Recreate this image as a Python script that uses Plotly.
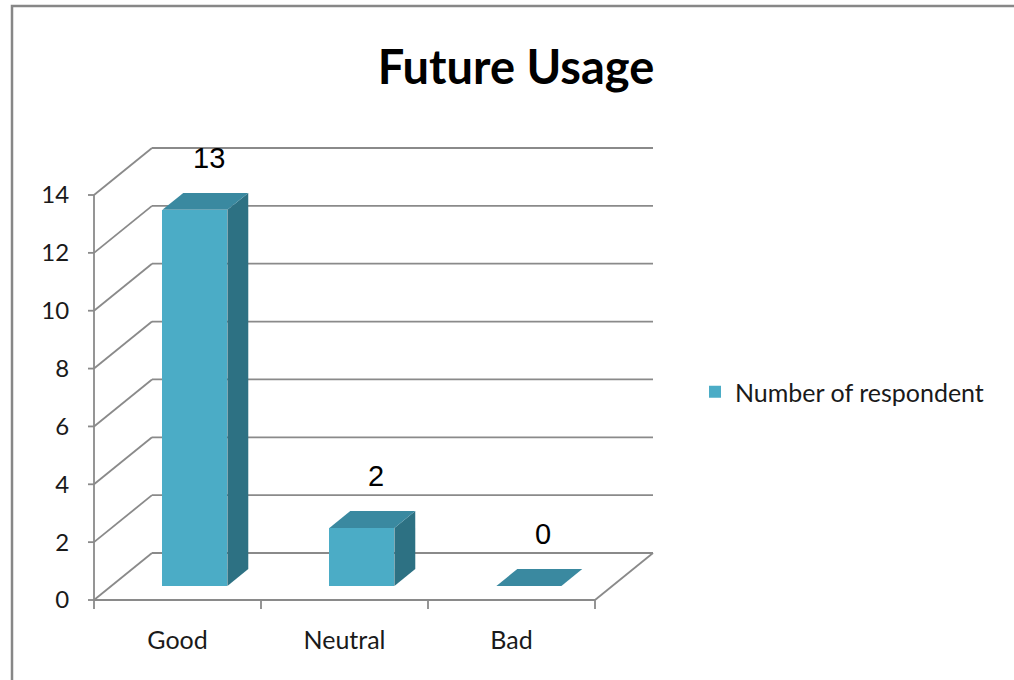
import plotly.graph_objects as go

# ---------------- data ----------------
categories = ["Good", "Neutral", "Bad"]
respondents = [13, 2, 0]
y_ticks = [0, 2, 4, 6, 8, 10, 12, 14]
series_name = "Number of respondent"
title_text = "Future Usage"

# ---------------- style / projection constants ----------------
W, H = 1014, 680
PX_X0 = 94.0                 # pixel of front-left axis
PX_CAT = 167.0               # pixels per category
PX_Y0 = 600.0                # pixel of value 0 on the front plane
PX_UNIT = (600 - 195) / 14   # pixels per value unit
PLOT_L, PLOT_R, PLOT_T, PLOT_B = 80, 690, 110, 614

x_min = -0.5 - (PX_X0 - PLOT_L) / PX_CAT
x_max = -0.5 + (PLOT_R - PX_X0) / PX_CAT
y_min = -(PLOT_B - PX_Y0) / PX_UNIT
y_max = (PX_Y0 - PLOT_T) / PX_UNIT

DX = 58 / PX_CAT             # depth offset (x units)
DY = 47 / PX_UNIT            # depth offset (y units)
D0, D1 = 0.30, 0.66          # bar depth span (fraction of wall depth)
BAR_W = 65 / PX_CAT
TICK_Y = 6 / PX_CAT
TICK_X = 9 / PX_UNIT

GRID = "#8a8a8a"
FRONT = "#4BACC6"
TOP = "#3A89A0"
SIDE = "#2D7183"
FONT_UI = "Lato"

n = len(categories)
left_edge = -0.5
right_edge = n - 0.5

fig = go.Figure()

# ---------------- walls / gridlines (shapes below traces) ----------------
shapes = []
def seg(x0, y0, x1, y1, w=1.8):
    shapes.append(dict(type="line", xref="x", yref="y", x0=x0, y0=y0, x1=x1, y1=y1,
                       line=dict(color=GRID, width=w), layer="below"))

for t in y_ticks:
    seg(left_edge + DX, t + DY, right_edge + DX, t + DY)      # back wall line
    seg(left_edge, t, left_edge + DX, t + DY)                  # side wall diagonal
    seg(left_edge - TICK_Y, t, left_edge, t)                   # y tick mark
# front y axis
seg(left_edge, 0, left_edge, max(y_ticks))
# floor front edge (x axis) and right edge
seg(left_edge, 0, right_edge, 0)
seg(right_edge, 0, right_edge + DX, DY)
# category boundary ticks
for i in range(n + 1):
    b = left_edge + i
    seg(b, 0, b, -TICK_X)

# outer chart border
def px_to_paper_x(px):
    return (px - PLOT_L) / (PLOT_R - PLOT_L)
def px_to_paper_y(py):
    return (PLOT_B - py) / (PLOT_B - PLOT_T)
shapes.append(dict(type="rect", xref="paper", yref="paper",
                   x0=px_to_paper_x(12), x1=px_to_paper_x(1040),
                   y0=px_to_paper_y(720), y1=px_to_paper_y(6),
                   line=dict(color="#878787", width=2.5), fillcolor="rgba(0,0,0,0)",
                   layer="below"))

# ---------------- bars: front faces ----------------
fig.add_trace(go.Bar(
    x=[i + D0 * DX for i in range(n)],
    y=respondents,
    base=[D0 * DY] * n,
    width=BAR_W,
    marker=dict(color=FRONT, line=dict(width=0)),
    name=series_name,
    showlegend=True,
    hoverinfo="skip",
))

# ---------------- bars: top and side faces ----------------
for i, v in enumerate(respondents):
    xl = i - BAR_W / 2
    xr = i + BAR_W / 2
    # side face
    if v > 0:
        fig.add_trace(go.Scatter(
            x=[xr + D0 * DX, xr + D0 * DX, xr + D1 * DX, xr + D1 * DX, xr + D0 * DX],
            y=[D0 * DY, v + D0 * DY, v + D1 * DY, D1 * DY, D0 * DY],
            mode="lines", fill="toself", fillcolor=SIDE,
            line=dict(width=0, color=SIDE), showlegend=False, hoverinfo="skip"))
    # top face
    fig.add_trace(go.Scatter(
        x=[xl + D0 * DX, xr + D0 * DX, xr + D1 * DX, xl + D1 * DX, xl + D0 * DX],
        y=[v + D0 * DY, v + D0 * DY, v + D1 * DY, v + D1 * DY, v + D0 * DY],
        mode="lines", fill="toself", fillcolor=TOP,
        line=dict(width=0, color=TOP), showlegend=False, hoverinfo="skip"))

# ---------------- value labels ----------------
annotations = []
for i, v in enumerate(respondents):
    annotations.append(dict(
        x=i + 0.55 * DX, y=v + DY + 0.65, xref="x", yref="y",
        text=str(v), showarrow=False,
        font=dict(family="Liberation Sans, Arial", size=29, color="#000000"),
        xanchor="center", yanchor="middle"))

fig.update_layout(
    width=W, height=H,
    margin=dict(l=PLOT_L, r=W - PLOT_R, t=PLOT_T, b=H - PLOT_B, pad=0),
    paper_bgcolor="white", plot_bgcolor="white",
    shapes=shapes, annotations=annotations,
    title=dict(text="<b>" + title_text + "</b>", x=516 / W, xref="container",
               xanchor="center", y=1 - 68 / H, yref="container", yanchor="middle",
               font=dict(family=FONT_UI, size=47, color="#000000")),
    xaxis=dict(range=[x_min, x_max], tickvals=list(range(n)), ticktext=categories,
               showgrid=False, zeroline=False, showline=False,
               ticks="outside", ticklen=4, tickcolor="rgba(0,0,0,0)",
               tickfont=dict(family=FONT_UI, size=25, color="#1a1a1a"),
               fixedrange=True),
    yaxis=dict(range=[y_min, y_max], tickvals=y_ticks, ticktext=[str(t) for t in y_ticks],
               showgrid=False, zeroline=False, showline=False,
               ticks="outside", ticklen=5, tickcolor="rgba(0,0,0,0)",
               tickfont=dict(family=FONT_UI, size=24, color="#1a1a1a"),
               fixedrange=True),
    legend=dict(x=px_to_paper_x(695), xanchor="left", y=px_to_paper_y(392), yanchor="middle",
                font=dict(family=FONT_UI, size=25, color="#1a1a1a"),
                bgcolor="rgba(0,0,0,0)"),
    showlegend=True,
    bargap=0,
)

fig.write_html("out.html")
